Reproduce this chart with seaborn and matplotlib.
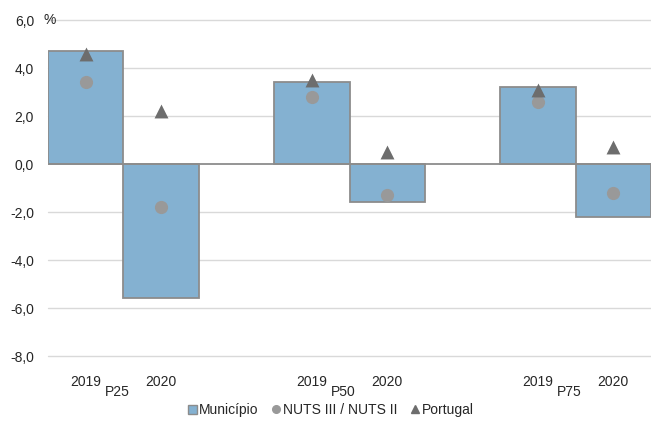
import seaborn as sns
import pandas as pd
import matplotlib.pyplot as plt
from matplotlib.patches import Patch
from matplotlib.lines import Line2D
import matplotlib.transforms as mtransforms

groups = ['P25', 'P50', 'P75']
years = ['2019', '2020']
municipio = [4.7, -5.6, 3.4, -1.6, 3.2, -2.2]
nuts = [3.4, -1.8, 2.8, -1.3, 2.6, -1.2]
portugal = [4.6, 2.2, 3.5, 0.5, 3.1, 0.7]
series_names = ['Município', 'NUTS III / NUTS II', 'Portugal']
y_ticks = [6, 4, 2, 0, -2, -4, -6, -8]

slots = [f'{g} {y}' for g in groups for y in years]
order = [slots[0], slots[1], 'gap1', slots[2], slots[3], 'gap2', slots[4], slots[5]]
df = pd.DataFrame({'slot': slots, 'municipio': municipio, 'nuts': nuts, 'portugal': portugal})

sns.set_style('white')
plt.rcParams['font.family'] = ['Liberation Sans', 'DejaVu Sans']

fig = plt.figure(figsize=(6.51, 4.21), dpi=100)
ax = fig.add_axes([48 / 651, 1 - 356 / 421, 1 - 48 / 651, (356 - 20) / 421])

for t in y_ticks:
    if t != 0:
        ax.axhline(t, color='#d9d9d9', lw=1, zorder=0, clip_on=False)

sns.barplot(data=df, x='slot', y='municipio', order=order, color='#84b1d1', saturation=1,
            width=1, edgecolor='#8c8c8c', linewidth=1.3, ax=ax, zorder=2)
ax.axhline(0, color='#8c8c8c', lw=1.3, zorder=3)
sns.stripplot(data=df, x='slot', y='nuts', order=order, jitter=False, marker='o', size=9.5,
              color='#999999', linewidth=0, ax=ax, zorder=4)
sns.stripplot(data=df, x='slot', y='portugal', order=order, jitter=False, marker='^', size=10,
              color='#6d6d6d', linewidth=0, ax=ax, zorder=5)

ax.set_xlim(-0.5, 7.5)
ax.set_ylim(-8, 6)
ax.set_yticks(y_ticks)
ax.set_yticklabels([f'{t:.1f}'.replace('.', ',') for t in y_ticks], fontsize=10)
ax.tick_params(axis='y', length=0, pad=10)
ax.set_xticks([i for i, o in enumerate(order) if not o.startswith('gap')])
ax.set_xticklabels([o.split()[1] for o in order if not o.startswith('gap')], fontsize=10)
ax.tick_params(axis='x', length=0, pad=14)
ax.set_xlabel('')
ax.set_ylabel('')
for s in ax.spines.values():
    s.set_visible(False)

trans = mtransforms.blended_transform_factory(ax.transData, fig.transFigure)
for g in groups:
    c = (order.index(f'{g} 2019') + order.index(f'{g} 2020')) / 2
    ax.text(c - 0.08, 1 - 392 / 421, g, transform=trans, ha='center', va='center', fontsize=10)

fig.text(50 / 651, 1 - 20 / 421, '%', ha='center', va='center', fontsize=10)

handles = [Patch(facecolor='#84b1d1', edgecolor='#8c8c8c', linewidth=1),
           Line2D([], [], marker='o', ls='', color='#999999', markersize=5.5),
           Line2D([], [], marker='^', ls='', color='#6d6d6d', markersize=5.5)]
fig.legend(handles, series_names, loc='center', bbox_to_anchor=(331 / 651, 1 - 410 / 421), ncol=3,
           frameon=False, fontsize=10, handlelength=0.6, handleheight=0.6, handletextpad=0.15,
           columnspacing=1.0)

fig.savefig('out.png', dpi=100)
